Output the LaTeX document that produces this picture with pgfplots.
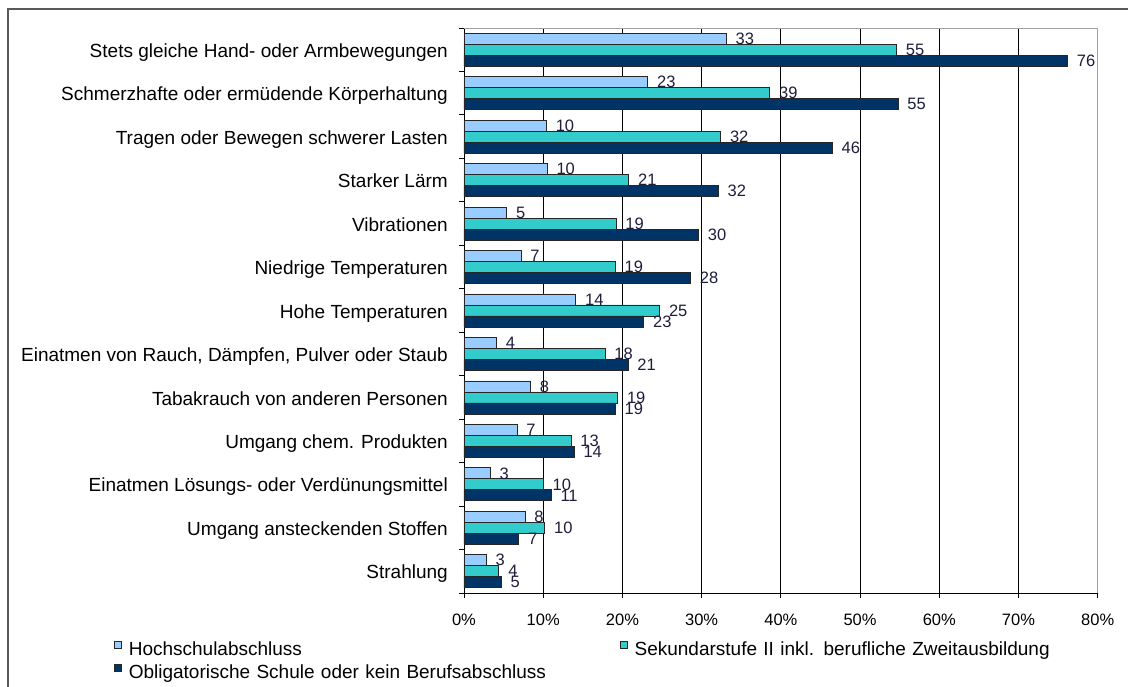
\documentclass[border=0pt]{standalone}
\usepackage{pgfplots}
\pgfplotsset{compat=1.18}
\usepackage{pgfplotstable}
\usepackage{fontspec}
\setmainfont{Liberation Sans}
\definecolor{cA}{HTML}{99CCFF}
\definecolor{cB}{HTML}{33CCCC}
\definecolor{cC}{HTML}{003366}
\definecolor{framec}{HTML}{5A5A5A}
\definecolor{bordc}{HTML}{A0A0A0}
\definecolor{lbl}{HTML}{1E1E3C}

% y: 12 = top category
\pgfplotstableread{
y  a    la  b    lb  c    lc
12 33.1 33  54.6 55  76.2 76
11 23.2 23  38.6 39  54.8 55
10 10.4 10  32.4 32  46.5 46
9  10.5 10  20.8 21  32.1 32
8  5.4  5   19.2 19  29.6 30
7  7.2  7   19.1 19  28.6 28
6  14.1 14  24.7 25  22.7 23
5  4.1  4   17.8 18  20.7 21
4  8.4  8   19.4 19  19.1 19
3  6.7  7   13.5 13  13.9 14
2  3.3  3   10.0 10  11.0 11
1  7.7  8   10.2 10  6.9  7
0  2.8  3   4.4  4   4.7  5
}\data

\begin{document}
\begin{tikzpicture}[x=1pt,y=1pt]
\useasboundingbox (0,0) rectangle (1128,687);
\fill[white] (0,0) rectangle (1128,687);
\draw[framec, line width=1.5pt] (8,0) -- (8,678) -- (1128,678);
\begin{axis}[
  at={(464pt,94pt)}, anchor=south west,
  scale only axis, width=633.7pt, height=565pt,
  xbar, bar width=11pt,
  xmin=0, xmax=80, ymin=-0.5, ymax=12.5,
  clip=false,
  axis lines*=left,
  axis line style={black, line width=0.9pt},
  /pgf/number format/assume math mode=true,
  xtick={0,10,...,80},
  xticklabel={\pgfmathprintnumber{\tick}\%},
  xticklabel style={font=\fontsize{16.5}{19}\selectfont, inner sep=0pt, text height=12pt, text depth=0pt, yshift=-15pt},
  xmajorgrids,
  grid style={black, line width=0.9pt},
  ytick={-0.5,0.5,...,12.5},
  yticklabels={},
  tick align=outside,
  major tick length=5pt,
  tick style={black, line width=0.9pt},
  extra y ticks={0,1,...,12},
  extra y tick labels={Strahlung, Umgang ansteckenden Stoffen, Einatmen Lösungs- oder Verdünungsmittel, Umgang chem. Produkten\ , Tabakrauch von anderen Personen, {Einatmen von Rauch, Dämpfen, Pulver oder Staub}, Hohe Temperaturen, Niedrige Temperaturen, Vibrationen, Starker Lärm, Tragen oder Bewegen schwerer Lasten, Schmerzhafte oder ermüdende Körperhaltung, Stets gleiche Hand- oder Armbewegungen},
  extra y tick style={major tick length=0pt, tick style={draw=none}, grid=none,
    tick label style={font=\fontsize{19}{22}\selectfont, inner sep=0pt, text height=14pt, text depth=4pt, anchor=east, xshift=-16pt, yshift=-2.6pt}},
  nodes near coords,
  point meta=explicit symbolic,
  nodes near coords style={font=\fontsize{16.5}{19}\selectfont, text=lbl, anchor=west, inner sep=0pt, xshift=9pt},
  legend columns=2,
  legend style={at={(-0.5523,-0.085)}, anchor=north west, draw=none, fill=none,
    inner sep=0pt, outer sep=0pt,
    font=\fontsize{19}{22}\selectfont,
    nodes={inner sep=0pt, text height=14pt, text depth=4pt, text width=491pt},
    /tikz/every odd column/.style={column sep=7pt},
    /tikz/every even column/.style={column sep=0pt},
    row sep=5pt},
]
\addplot[fill=cA, draw=black!85, line width=0.8pt, bar shift=11pt,
  legend image code/.code={\draw[fill=cA, draw=black!85, line width=0.8pt] (0pt,1.5pt) rectangle (7pt,8.5pt);}]
  table[x=a, y=y, meta=la] {\data};
\addplot[fill=cB, draw=black!85, line width=0.8pt, bar shift=0pt,
  legend image code/.code={\draw[fill=cB, draw=black!85, line width=0.8pt] (0pt,1.5pt) rectangle (7pt,8.5pt);}]
  table[x=b, y=y, meta=lb] {\data};
\addplot[fill=cC, draw=black!85, line width=0.8pt, bar shift=-11pt,
  legend image code/.code={\draw[fill=cC, draw=black!85, line width=0.8pt] (0pt,1.5pt) rectangle (7pt,8.5pt);}]
  table[x=c, y=y, meta=lc] {\data};
\legend{Hochschulabschluss, Sekundarstufe II inkl. berufliche Zweitausbildung, Obligatorische Schule oder kein Berufsabschluss}
\draw[bordc, line width=0.9pt] (axis description cs:0,1) -- (axis description cs:1,1) -- (axis description cs:1,0);
\end{axis}
\end{tikzpicture}
\end{document}
